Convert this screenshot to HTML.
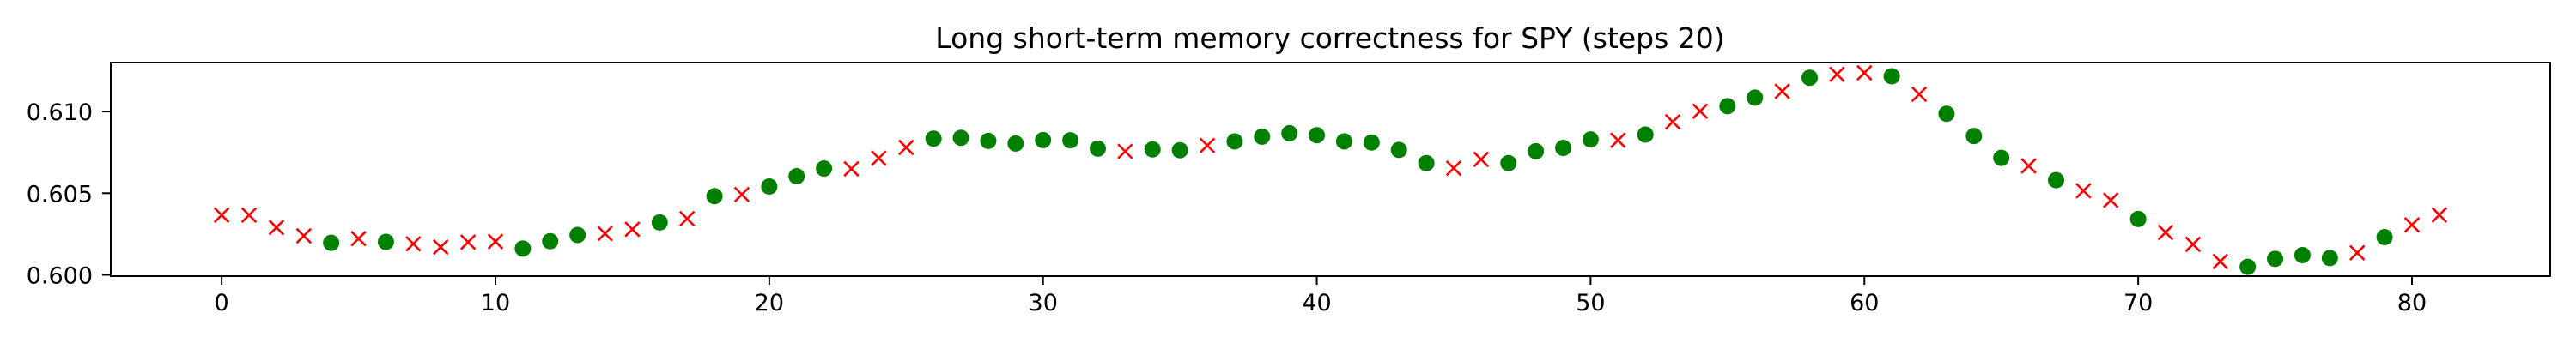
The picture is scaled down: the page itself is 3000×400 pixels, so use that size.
<!DOCTYPE html>
<html><head><meta charset="utf-8"><style>
html,body{margin:0;padding:0;background:#fff;}
svg{display:block;font-family:"DejaVu Sans","Liberation Sans",sans-serif;}
</style></head><body>
<svg id="chart" width="3000" height="400" viewBox="0 0 3000 400" xmlns="http://www.w3.org/2000/svg">
<rect x="0" y="0" width="3000" height="400" fill="#fff"/>
<text x="1549" y="56" font-size="33" text-anchor="middle">Long short-term memory correctness for SPY (steps 20)</text>
<g id="marks"></g>
<g id="axes"></g>
</svg>
<script>
const values = [0.60366,0.60366,0.6029,0.60239,0.60196,0.60222,0.60202,0.6019,0.6017,0.6020,
0.60204,0.60161,0.60206,0.60244,0.60253,0.60279,0.60321,0.60344,0.60482,0.60492,
0.60541,0.60604,0.60651,0.60649,0.60714,0.6078,0.60834,0.60839,0.6082,0.60804,
0.60825,0.60824,0.60773,0.60756,0.60768,0.60763,0.60792,0.60817,0.60846,0.60867,
0.60855,0.60817,0.6081,0.60765,0.60684,0.60653,0.60707,0.60684,0.60757,0.60777,
0.60829,0.60824,0.60859,0.60937,0.61002,0.61033,0.61085,0.61124,0.61207,0.61228,
0.61237,0.61216,0.61106,0.60986,0.6085,0.60716,0.60667,0.6058,0.60515,0.60457,
0.60342,0.6026,0.60187,0.60082,0.60049,0.60098,0.60121,0.60103,0.60135,0.60231,
0.60306,0.60367];
const correct = [0,0,0,0,1,0,1,0,0,0,
0,1,1,1,0,0,1,0,1,0,
1,1,1,0,0,0,1,1,1,1,
1,1,1,0,1,1,0,1,1,1,
1,1,1,1,1,0,0,1,1,1,
1,0,1,0,0,1,1,0,1,0,
0,1,0,1,1,1,0,1,0,0,
1,0,0,0,1,1,1,1,0,1,
0,0];
const xTicks = [0,10,20,30,40,50,60,70,80];
const yTicks = [0.600,0.605,0.610];
const yTickLabels = ["0.600","0.605","0.610"];

const L=129,R=2970,T=73,B=322;
const xMin=-4.05,xMax=85.05,yMin=0.59992,yMax=0.61300;
const sx=v=>L+(v-xMin)/(xMax-xMin)*(R-L);
const sy=v=>B-(v-yMin)/(yMax-yMin)*(B-T);
const NS="http://www.w3.org/2000/svg";
const marks=document.getElementById('marks');
const axes=document.getElementById('axes');
function mk(tag,attrs,parent){const e=document.createElementNS(NS,tag);for(const k in attrs)e.setAttribute(k,attrs[k]);parent.appendChild(e);return e;}

values.forEach((v,i)=>{
  const cx=sx(i),cy=sy(v);
  if(correct[i]){
    const c=mk('circle',{cx:cx,cy:cy,r:9.5,fill:'#008000'},marks);
    
    
  } else {
    const d=8.3;
    const p=mk('path',{d:`M${cx-d},${cy-d}L${cx+d},${cy+d}M${cx-d},${cy+d}L${cx+d},${cy-d}`,stroke:'#ff0000','stroke-width':2.6,fill:'none'},marks);
    
    
  }
});

const frame=mk('rect',{x:L,y:T,width:R-L,height:B-T,fill:'none',stroke:'#000','stroke-width':2},axes);



xTicks.forEach(t=>{
  const x=sx(t);
  const tk=mk('line',{x1:x,x2:x,y1:B,y2:B+10,stroke:'#000','stroke-width':2},axes);
  
  
  const lb=mk('text',{x:x,y:362,'font-size':27,'text-anchor':'middle'},axes);
  lb.textContent=String(t);
  
  
});
yTicks.forEach((t,i)=>{
  const y=sy(t);
  const tk=mk('line',{x1:L-10,x2:L,y1:y,y2:y,stroke:'#000','stroke-width':2},axes);
  
  
  const lb=mk('text',{x:108,y:y+10,'font-size':27,'text-anchor':'end'},axes);
  lb.textContent=yTickLabels[i];
  
  
});
</script>
</body></html>
